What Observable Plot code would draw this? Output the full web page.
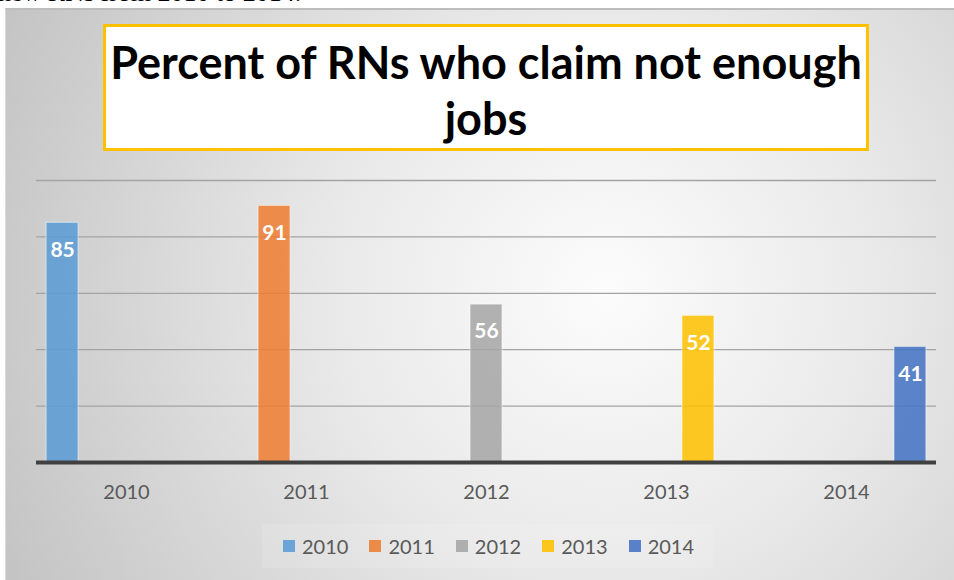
<!DOCTYPE html>
<html><head><meta charset="utf-8">
<script src="https://cdn.jsdelivr.net/npm/d3@7"></script>
<script src="https://cdn.jsdelivr.net/npm/@observablehq/plot@0.6"></script>
<style>
html,body{margin:0;padding:0;background:#fff;}
#wrap{position:relative;width:954px;height:580px;overflow:hidden;background:#fff;}
#bg{position:absolute;left:5px;top:8px;right:0;bottom:0;background:radial-gradient(circle 660px at 600px 280px,#fcfcfc 0%,#e9e9e9 42%,#c4c4c4 100%);border-left:1px solid #dadada;border-top:2px solid #bdbdbd;}
#pre{position:absolute;left:-2px;top:-20px;font-family:"Liberation Serif";font-size:26px;line-height:26px;color:#000;white-space:nowrap;}
#title{position:absolute;left:103px;top:24px;width:760px;height:114px;padding-top:7px;border:3px solid #FFC000;background:#fff;font-family:Lato;font-weight:bold;font-size:45px;line-height:56px;text-align:center;color:#000;}
#legbg{position:absolute;left:262px;top:524px;width:451px;height:44px;background:rgba(255,255,255,0.12);}
#legend{position:absolute;left:283px;top:536px;height:20px;display:flex;align-items:center;font-family:Lato;font-size:20px;line-height:20px;color:#595959;white-space:nowrap;}
#legend .item{display:flex;align-items:center;margin-right:21px;}
#legend .sw{width:12px;height:12px;margin-right:7px;}
#chart{position:absolute;left:0;top:0;}
</style></head>
<body>
<div id="wrap">
  <div id="pre"></div>
  <div id="bg"></div>
  <div id="legbg"></div>
  <div id="chart"></div>
  <div id="title"></div>
  <div id="legend"></div>
</div>
<script>
const preText = "new RNs from 2010 to 2014.";
const titleLines = ["Percent of RNs who claim not enough", "jobs"];
const years = ["2010", "2011", "2012", "2013", "2014"];
const values = [85, 91, 56, 52, 41];
const seriesColors = ["#5B9BD5", "#ED7D31", "#A5A5A5", "#FFC000", "#4472C4"];
const gridTicks = [20, 40, 60, 80, 100];

const data = years.map((y, i) => ({year: y, series: y, value: values[i]}));

document.getElementById("pre").textContent = preText;
document.getElementById("title").innerHTML = titleLines.join("<br>");

const chart = Plot.plot({
  width: 954,
  height: 580,
  marginLeft: 35,
  marginRight: 18,
  marginTop: 180,
  marginBottom: 118,
  style: {background: "transparent", fontFamily: "Lato", fontSize: "20px", color: "#595959", overflow: "visible"},
  fx: {domain: years, padding: 0, axis: "bottom", tickSize: 0, tickPadding: 22, label: null},
  x: {domain: years, axis: null, paddingInner: 0, paddingOuter: 0.316, round: false},
  y: {domain: [0, 100], axis: null},
  color: {domain: years, range: seriesColors},
  marks: [
    Plot.ruleY(gridTicks, {stroke: "#a3a3a3", strokeWidth: 1.3}),
    Plot.barY(data, {fx: "year", x: "series", y: "value", fill: "series", fillOpacity: 0.86, stroke: "#ffffff", strokeOpacity: 0.55, strokeWidth: 1}),
    Plot.ruleY([0], {stroke: "#404040", strokeWidth: 4}),
    Plot.text(data, {fx: "year", x: "series", y: "value", text: d => String(d.value), fill: "#ffffff", fontWeight: "bold", fontSize: 21, fontFamily: "Lato", dy: 27})
  ]
});
document.getElementById("chart").appendChild(chart);

const color = chart.scale("color");
const leg = d3.select("#legend");
color.domain.forEach((k, i) => {
  const it = leg.append("div").attr("class", "item");
  it.append("div").attr("class", "sw").style("background", color.range[i]).style("opacity", 0.88);
  it.append("span").text(k);
});
</script>
</body></html>
